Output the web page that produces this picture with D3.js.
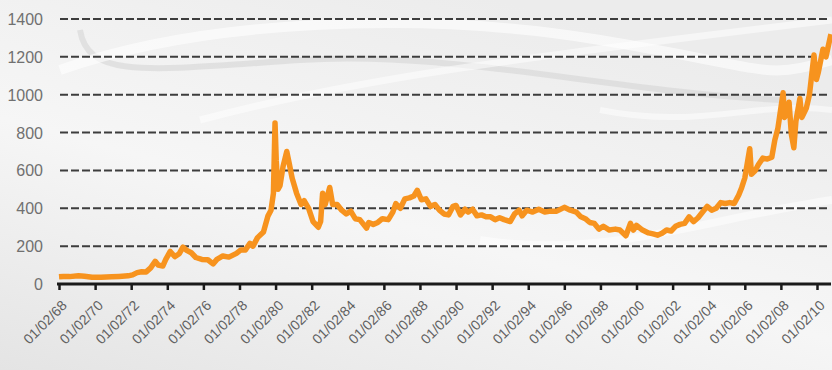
<!DOCTYPE html>
<html>
<head>
<meta charset="utf-8">
<script src="https://cdn.jsdelivr.net/npm/d3@7/dist/d3.min.js"></script>
<style>
  body { margin: 0; background: #f2f2f2; }
  svg { display: block; }
</style>
</head>
<body>
<script>
var w = 832;
var h = 370;

// price series (date, value)
var dates = [
  "1968-02-01","1968-05-01","1968-09-01","1969-03-01","1969-07-01","1969-12-01","1970-06-01",
  "1971-01-01","1971-06-01","1971-12-01","1972-03-01","1972-06-01","1972-09-01","1972-12-01",
  "1973-03-01","1973-06-01","1973-08-01","1973-11-01","1974-01-01","1974-04-01","1974-07-01",
  "1974-10-01","1974-12-15","1975-03-01","1975-06-01","1975-09-01","1976-01-01","1976-05-01",
  "1976-08-15","1976-11-01","1977-03-01","1977-07-01","1977-12-01","1978-03-01","1978-06-01",
  "1978-09-01","1978-11-01","1979-02-01","1979-06-01","1979-09-01","1979-11-01","1979-12-20",
  "1980-01-21","1980-02-15","1980-03-20","1980-05-01","1980-07-01","1980-09-15","1980-11-01",
  "1981-01-01","1981-04-01","1981-07-01","1981-09-01","1981-12-01","1982-03-01","1982-06-15",
  "1982-08-01","1982-09-10","1982-11-01","1983-02-01","1983-04-01","1983-07-01","1983-10-01",
  "1984-01-01","1984-04-01","1984-07-01","1984-10-01","1985-02-15","1985-04-01","1985-07-01",
  "1985-10-01","1986-01-01","1986-05-01","1986-08-01","1986-10-01","1987-01-01","1987-04-01",
  "1987-07-01","1987-10-01","1987-12-10","1988-03-01","1988-06-01","1988-09-01","1988-12-01",
  "1989-03-01","1989-06-01","1989-09-01","1989-12-01","1990-02-01","1990-05-01","1990-08-01",
  "1990-10-01","1991-01-01","1991-04-01","1991-07-01","1991-10-01","1992-01-01","1992-04-01",
  "1992-07-01","1992-10-01","1993-02-01","1993-05-01","1993-08-01","1993-10-01","1994-01-01",
  "1994-05-01","1994-09-01","1995-01-01","1995-05-01","1995-09-01","1996-02-01","1996-06-01",
  "1996-10-01","1997-01-01","1997-04-01","1997-07-01","1997-10-01","1998-01-01","1998-04-01",
  "1998-08-01","1998-12-01","1999-03-01","1999-07-01","1999-10-01","1999-12-01","2000-02-01",
  "2000-06-01","2000-10-01","2001-01-01","2001-04-01","2001-07-01","2001-10-01","2002-01-01",
  "2002-04-01","2002-07-01","2002-10-01","2003-01-01","2003-04-01","2003-07-01","2003-10-01",
  "2004-01-01","2004-04-01","2004-07-01","2004-10-01","2005-01-01","2005-04-01","2005-07-01",
  "2005-10-01","2005-12-01","2006-02-01","2006-05-12","2006-06-15","2006-09-01","2006-11-01",
  "2007-02-01","2007-05-01","2007-08-01","2007-10-01","2007-12-01","2008-03-17","2008-04-15",
  "2008-06-01","2008-07-15","2008-09-01","2008-10-20","2008-12-01","2009-02-20","2009-04-01",
  "2009-07-01","2009-09-01","2009-12-02","2010-01-20","2010-03-01","2010-06-01","2010-08-01",
  "2010-11-10"
];
var prices = [
  38, 40, 39, 43, 41, 36, 36,
  38, 40, 43, 48, 60, 65, 64,
  85, 120, 100, 95, 130, 172, 145,
  160, 195, 178, 165, 140, 130, 128,
  106, 130, 148, 142, 162, 180, 180,
  215, 200, 245, 275, 360, 390, 480,
  850, 650, 500, 520, 620, 700, 640,
  560, 480, 420, 440, 400, 330, 300,
  330, 480, 420, 510, 420, 420, 390,
  370, 385, 345, 340, 295, 325, 315,
  325, 345, 340, 380, 425, 400, 450,
  455, 465, 495, 445, 450, 410, 420,
  390, 370, 365, 410, 415, 365, 395,
  380, 395, 360, 365, 355, 355, 340,
  350, 340, 330, 370, 390, 360, 390,
  380, 395, 380, 385, 385, 405, 390,
  380, 355, 345, 325, 320, 290, 305,
  285, 290, 285, 255, 320, 285, 310,
  285, 270, 265, 258, 268, 285, 280,
  305, 315, 320, 355, 330, 350, 380,
  410, 390, 400, 430, 425, 430, 425,
  470, 510, 560, 715, 580, 600, 630,
  665, 660, 670, 760, 820, 1010, 880,
  900, 960, 790, 720, 860, 980, 880,
  930, 1000, 1210, 1080, 1120, 1240, 1200,
  1320
];

var yTicks = [0, 200, 400, 600, 800, 1000, 1200, 1400];
var xTickYears = d3.range(1968, 2011, 2); // labelled 01/02/yy

var parse = d3.timeParse("%Y-%m-%d");
var data = dates.map(function(d, i) { return { date: parse(d), value: prices[i] }; });

var xScale = d3.scaleTime()
    .domain([new Date(1968, 1, 1), new Date(2010, 1, 1)])
    .range([59, 817]);

var yScale = d3.scaleLinear()
    .domain([0, 1400])
    .range([284, 19]);

var svg = d3.select("body")
    .append("svg")
    .attr("width", w)
    .attr("height", h);

// background
var defs = svg.append("defs");
var bg = defs.append("linearGradient").attr("id", "bg")
    .attr("x1", "0").attr("y1", "1").attr("x2", "0.6").attr("y2", "0");
bg.append("stop").attr("offset", "0").attr("stop-color", "#e4e4e4");
bg.append("stop").attr("offset", "0.5").attr("stop-color", "#f6f6f6");
bg.append("stop").attr("offset", "1").attr("stop-color", "#ececec");

svg.append("rect").attr("width", w).attr("height", h).attr("fill", "url(#bg)");

// decorative swooshes
var swoosh = svg.append("g").attr("fill", "none");
swoosh.append("path")
    .attr("d", "M80,30 C88,80 150,70 300,60 S600,90 780,100")
    .attr("stroke", "#d6d6d6").attr("stroke-width", 6).attr("opacity", 0.6);
swoosh.append("path")
    .attr("d", "M60,70 C200,20 420,10 600,40 S760,80 832,60")
    .attr("stroke", "#ffffff").attr("stroke-width", 10).attr("opacity", 0.6);
swoosh.append("path")
    .attr("d", "M200,120 C350,80 500,60 832,20")
    .attr("stroke", "#ffffff").attr("stroke-width", 7).attr("opacity", 0.5);
swoosh.append("path")
    .attr("d", "M480,240 C600,260 700,220 832,200")
    .attr("stroke", "#ffffff").attr("stroke-width", 8).attr("opacity", 0.5);
swoosh.append("path")
    .attr("d", "M600,110 C700,130 760,100 832,110")
    .attr("stroke", "#ffffff").attr("stroke-width", 6).attr("opacity", 0.5);

// grid lines
svg.append("g")
    .selectAll("line")
    .data(yTicks.filter(function(d) { return d > 0; }))
    .enter()
    .append("line")
    .attr("x1", 60)
    .attr("x2", 830)
    .attr("y1", function(d) { return yScale(d); })
    .attr("y2", function(d) { return yScale(d); })
    .attr("stroke", "#3d3d3d")
    .attr("stroke-width", 2)
    .attr("stroke-dasharray", "8,3");

// y labels
svg.append("g")
    .selectAll("text")
    .data(yTicks)
    .enter()
    .append("text")
    .attr("x", 43)
    .attr("y", function(d) { return yScale(d) + 6; })
    .attr("text-anchor", "end")
    .attr("font-family", "'Liberation Sans Narrow', 'Liberation Sans', Arial, sans-serif")
    .attr("font-size", 16)
    .attr("fill", "#707070")
    .text(function(d) { return d; });

// price line
var line = d3.line()
    .x(function(d) { return xScale(d.date); })
    .y(function(d) { return yScale(d.value); })
    .curve(d3.curveLinear);

svg.append("path")
    .datum(data)
    .attr("d", line)
    .attr("fill", "none")
    .attr("stroke", "#f7931e")
    .attr("stroke-width", 5.5)
    .attr("stroke-linejoin", "round");

// x axis
var tickDates = xTickYears.map(function(y) { return new Date(y, 1, 1); });
var xAxis = d3.axisBottom(xScale)
    .tickValues(tickDates)
    .tickSize(6)
    .tickFormat(d3.timeFormat("01/02/%y"));

var gx = svg.append("g")
    .attr("transform", "translate(0," + 284 + ")")
    .call(xAxis);

gx.select(".domain").remove();
gx.append("line")
    .attr("x1", 57).attr("x2", 831)
    .attr("y1", 0).attr("y2", 0)
    .attr("stroke", "#1a1a1a").attr("stroke-width", 3);
gx.selectAll(".tick line").attr("stroke", "#1a1a1a").attr("stroke-width", 2.5);
gx.selectAll(".tick text")
    .attr("font-family", "'Liberation Sans Narrow', 'Liberation Sans', Arial, sans-serif")
    .attr("font-size", 14)
    .attr("fill", "#606060")
    .attr("text-anchor", "end")
    .attr("dx", 0)
    .attr("dy", 0)
    .attr("transform", "translate(2,16) rotate(-45)");
</script>
</body>
</html>
